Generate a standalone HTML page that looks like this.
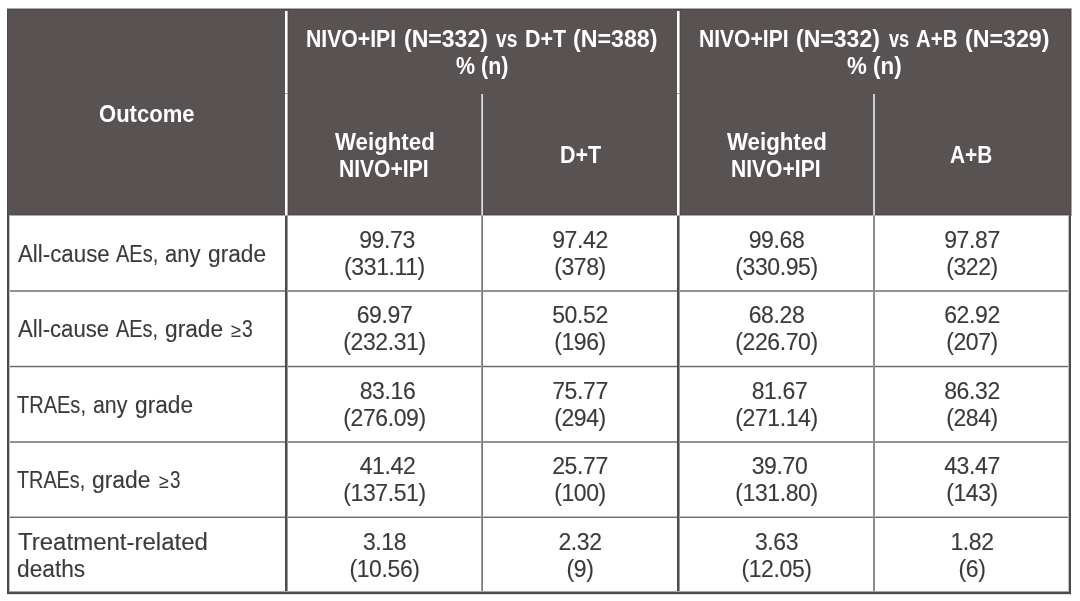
<!DOCTYPE html>
<html>
<head>
<meta charset="utf-8">
<style>
html,body{margin:0;padding:0;background:#fff;}
body{will-change:transform;width:1080px;height:601px;overflow:hidden;position:relative;font-family:"Liberation Sans",sans-serif;}
.a{position:absolute;}
.t{position:absolute;text-align:center;white-space:nowrap;line-height:27px;}
.h{color:#fff;font-weight:bold;font-size:23px;}
.c{color:#3d3937;font-size:23px;-webkit-text-stroke:0.12px #3d3937;}
.l{text-align:left;}
.w{transform-origin:0 0;text-align:left;}
.tx{position:absolute;left:0;top:0;width:1080px;height:601px;}
</style>
</head>
<body>
<div class="a" style="left:7px;top:8px;width:1065px;height:208px;background:#585352"></div>
<div class="a" style="left:7px;top:8px;width:1065px;height:1px;background:#aca9a8"></div>
<div class="a" style="left:7px;top:9px;width:1064px;height:1px;background:#4e4a48"></div>
<div class="a" style="left:7px;top:9px;width:1px;height:206px;background:#4e4a48"></div>
<div class="a" style="left:1070px;top:9px;width:1px;height:206px;background:#4e4a48"></div>
<div class="a" style="left:1071px;top:8px;width:1px;height:208px;background:#aca9a8"></div>
<div class="a" style="left:8px;top:214px;width:1062px;height:1px;background:#4e4a48"></div>
<div class="a" style="left:9px;top:215px;width:1060px;height:1px;background:#aca9a8"></div>
<div class="a" style="left:285px;top:11px;width:2px;height:204px;background:#ffffff"></div>
<div class="a" style="left:287px;top:11px;width:1px;height:204px;background:#b4b2b1"></div>
<div class="a" style="left:288px;top:11px;width:1px;height:204px;background:#4e4a48"></div>
<div class="a" style="left:677px;top:11px;width:2px;height:204px;background:#ffffff"></div>
<div class="a" style="left:679px;top:11px;width:1px;height:204px;background:#b4b2b1"></div>
<div class="a" style="left:680px;top:11px;width:1px;height:204px;background:#4e4a48"></div>
<div class="a" style="left:285px;top:93px;width:3px;height:1px;background:#9b9897"></div>
<div class="a" style="left:677px;top:93px;width:3px;height:1px;background:#9b9897"></div>
<div class="a" style="left:481px;top:94px;width:1px;height:121px;background:#b4b2b1"></div>
<div class="a" style="left:482px;top:94px;width:1px;height:121px;background:#e1e0e0"></div>
<div class="a" style="left:873px;top:94px;width:1px;height:121px;background:#cdcbcb"></div>
<div class="a" style="left:874px;top:94px;width:1px;height:121px;background:#cdcbcb"></div>
<div class="a" style="left:9px;top:290px;width:1060px;height:1px;background:#959291"></div>
<div class="a" style="left:9px;top:291px;width:1060px;height:1px;background:#959291"></div>
<div class="a" style="left:9px;top:365px;width:1060px;height:1px;background:#e4e4e4"></div>
<div class="a" style="left:9px;top:366px;width:1060px;height:1px;background:#696563"></div>
<div class="a" style="left:9px;top:367px;width:1060px;height:1px;background:#dcdbda"></div>
<div class="a" style="left:9px;top:441px;width:1060px;height:1px;background:#959291"></div>
<div class="a" style="left:9px;top:442px;width:1060px;height:1px;background:#959291"></div>
<div class="a" style="left:9px;top:516px;width:1060px;height:1px;background:#c1c0bf"></div>
<div class="a" style="left:9px;top:517px;width:1060px;height:1px;background:#716e6d"></div>
<div class="a" style="left:7px;top:216px;width:2px;height:378px;background:#4e4a48"></div>
<div class="a" style="left:9px;top:216px;width:1px;height:375px;background:#c1c0bf"></div>
<div class="a" style="left:1069px;top:216px;width:2px;height:378px;background:#4e4a48"></div>
<div class="a" style="left:1068px;top:216px;width:1px;height:375px;background:#c1c0bf"></div>
<div class="a" style="left:9px;top:591px;width:1060px;height:1px;background:#a6a4a4"></div>
<div class="a" style="left:7px;top:592px;width:1064px;height:2px;background:#4e4a48"></div>
<div class="a" style="left:7px;top:594px;width:1065px;height:1px;background:#e4e4e4"></div>
<div class="a" style="left:285px;top:216px;width:2px;height:375px;background:#4e4a48"></div>
<div class="a" style="left:287px;top:216px;width:1px;height:375px;background:#9e9b9a"></div>
<div class="a" style="left:677px;top:216px;width:2px;height:375px;background:#4e4a48"></div>
<div class="a" style="left:679px;top:216px;width:1px;height:375px;background:#9e9b9a"></div>
<div class="a" style="left:481px;top:216px;width:1px;height:375px;background:#9e9b9a"></div>
<div class="a" style="left:482px;top:216px;width:1px;height:375px;background:#7a7776"></div>
<div class="a" style="left:873px;top:216px;width:1px;height:375px;background:#8f8d8c"></div>
<div class="a" style="left:874px;top:216px;width:1px;height:375px;background:#8f8d8c"></div>
<div class="tx">
<div class="t h w" style="left:306.48px;top:26px;transform:scaleX(0.9219)">NIVO+IPI</div>
<div class="t h w" style="left:404.20px;top:26px;transform:scaleX(1.0024)">(N=332)</div>
<div class="t h w" style="left:496.40px;top:26px;transform:scaleX(0.8320)">vs</div>
<div class="t h w" style="left:524.57px;top:26px;transform:scaleX(0.9326)">D+T</div>
<div class="t h w" style="left:572.79px;top:26px;transform:scaleX(1.0085)">(N=388)</div>
<div class="t h w" style="left:698.78px;top:26px;transform:scaleX(0.9156)">NIVO+IPI</div>
<div class="t h w" style="left:796.30px;top:26px;transform:scaleX(1.0024)">(N=332)</div>
<div class="t h w" style="left:888.70px;top:26px;transform:scaleX(0.7880)">vs</div>
<div class="t h w" style="left:916.01px;top:26px;transform:scaleX(0.8867)">A+B</div>
<div class="t h w" style="left:964.59px;top:26px;transform:scaleX(1.0085)">(N=329)</div>
<div class="t h w" style="left:456.25px;top:53px;transform:scaleX(0.9318)">% (n)</div>
<div class="t h w" style="left:846.80px;top:53px;transform:scaleX(0.9709)">% (n)</div>
<div class="t h w" style="left:99.04px;top:101px;transform:scaleX(0.9582)">Outcome</div>
<div class="t h w" style="left:334.50px;top:129px;transform:scaleX(0.9676)">Weighted</div>
<div class="t h w" style="left:338.98px;top:156px;transform:scaleX(0.9156)">NIVO+IPI</div>
<div class="t h w" style="left:726.50px;top:129px;transform:scaleX(0.9676)">Weighted</div>
<div class="t h w" style="left:730.98px;top:156px;transform:scaleX(0.9156)">NIVO+IPI</div>
<div class="t h w" style="left:559.87px;top:142px;transform:scaleX(0.9349)">D+T</div>
<div class="t h w" style="left:950.09px;top:142px;transform:scaleX(0.9067)">A+B</div>
<div class="t c w" style="left:17.50px;top:241px;transform:scaleX(0.9691)">All-cause</div>
<div class="t c w" style="left:116.20px;top:241px;transform:scaleX(0.8702)">AEs,</div>
<div class="t c w" style="left:165.34px;top:241px;transform:scaleX(0.9556)">any</div>
<div class="t c w" style="left:207.51px;top:241px;transform:scaleX(0.9877)">grade</div>
<div class="t c w" style="left:17.50px;top:316px;transform:scaleX(0.9638)">All-cause</div>
<div class="t c w" style="left:116.30px;top:316px;transform:scaleX(0.8660)">AEs,</div>
<div class="t c w" style="left:164.91px;top:316px;transform:scaleX(0.9877)">grade</div>
<div class="t c w" style="left:231.00px;top:317px;font-size:19.5px;transform:scaleX(0.9250)">&ge;</div>
<div class="t c w" style="left:242.16px;top:316px;transform:scaleX(0.8409)">3</div>
<div class="t c w" style="left:17.00px;top:392px;transform:scaleX(0.8701)">TRAEs,</div>
<div class="t c w" style="left:92.67px;top:392px;transform:scaleX(0.9278)">any</div>
<div class="t c w" style="left:134.91px;top:392px;transform:scaleX(0.9877)">grade</div>
<div class="t c w" style="left:17.00px;top:467px;transform:scaleX(0.8610)">TRAEs,</div>
<div class="t c w" style="left:92.31px;top:467px;transform:scaleX(0.9947)">grade</div>
<div class="t c w" style="left:159.00px;top:468px;font-size:19.5px;transform:scaleX(0.9000)">&ge;</div>
<div class="t c w" style="left:170.18px;top:467px;transform:scaleX(0.8182)">3</div>
<div class="t c w" style="left:17.80px;top:529px;transform:scaleX(1.0436)">Treatment-related</div>
<div class="t c w" style="left:16.81px;top:556px;transform:scaleX(0.9881)">deaths</div>
<div class="t c" style="left:289.5px;width:195px;top:227px;letter-spacing:-0.4px">99.73</div>
<div class="t c" style="left:287px;width:195px;top:254px;letter-spacing:-0.4px">(331.11)</div>
<div class="t c" style="left:483px;width:194px;top:227px;letter-spacing:-0.4px">97.42</div>
<div class="t c" style="left:483px;width:194px;top:254px;letter-spacing:-0.4px">(378)</div>
<div class="t c" style="left:679px;width:195px;top:227px;letter-spacing:-0.4px">99.68</div>
<div class="t c" style="left:679px;width:195px;top:254px;letter-spacing:-0.4px">(330.95)</div>
<div class="t c" style="left:875px;width:194px;top:227px;letter-spacing:-0.4px">97.87</div>
<div class="t c" style="left:875px;width:194px;top:254px;letter-spacing:-0.4px">(322)</div>
<div class="t c" style="left:287px;width:195px;top:302px;letter-spacing:-0.4px">69.97</div>
<div class="t c" style="left:287px;width:195px;top:329px;letter-spacing:-0.4px">(232.31)</div>
<div class="t c" style="left:483px;width:194px;top:302px;letter-spacing:-0.4px">50.52</div>
<div class="t c" style="left:483px;width:194px;top:329px;letter-spacing:-0.4px">(196)</div>
<div class="t c" style="left:679px;width:195px;top:302px;letter-spacing:-0.4px">68.28</div>
<div class="t c" style="left:679px;width:195px;top:329px;letter-spacing:-0.4px">(226.70)</div>
<div class="t c" style="left:875px;width:194px;top:302px;letter-spacing:-0.4px">62.92</div>
<div class="t c" style="left:875px;width:194px;top:329px;letter-spacing:-0.4px">(207)</div>
<div class="t c" style="left:290px;width:195px;top:378px;letter-spacing:-0.4px">83.16</div>
<div class="t c" style="left:287px;width:195px;top:405px;letter-spacing:-0.4px">(276.09)</div>
<div class="t c" style="left:483px;width:194px;top:378px;letter-spacing:-0.4px">75.77</div>
<div class="t c" style="left:483px;width:194px;top:405px;letter-spacing:-0.4px">(294)</div>
<div class="t c" style="left:682px;width:195px;top:378px;letter-spacing:-0.4px">81.67</div>
<div class="t c" style="left:679px;width:195px;top:405px;letter-spacing:-0.4px">(271.14)</div>
<div class="t c" style="left:875px;width:194px;top:378px;letter-spacing:-0.4px">86.32</div>
<div class="t c" style="left:875px;width:194px;top:405px;letter-spacing:-0.4px">(284)</div>
<div class="t c" style="left:290px;width:195px;top:453px;letter-spacing:-0.4px">41.42</div>
<div class="t c" style="left:287px;width:195px;top:480px;letter-spacing:-0.4px">(137.51)</div>
<div class="t c" style="left:483px;width:194px;top:453px;letter-spacing:-0.4px">25.77</div>
<div class="t c" style="left:483px;width:194px;top:480px;letter-spacing:-0.4px">(100)</div>
<div class="t c" style="left:682px;width:195px;top:453px;letter-spacing:-0.4px">39.70</div>
<div class="t c" style="left:679px;width:195px;top:480px;letter-spacing:-0.4px">(131.80)</div>
<div class="t c" style="left:875px;width:194px;top:453px;letter-spacing:-0.4px">43.47</div>
<div class="t c" style="left:875px;width:194px;top:480px;letter-spacing:-0.4px">(143)</div>
<div class="t c" style="left:287px;width:195px;top:529px;letter-spacing:-0.4px">3.18</div>
<div class="t c" style="left:287px;width:195px;top:556px;letter-spacing:-0.4px">(10.56)</div>
<div class="t c" style="left:483px;width:194px;top:529px;letter-spacing:-0.4px">2.32</div>
<div class="t c" style="left:483px;width:194px;top:556px;letter-spacing:-0.4px">(9)</div>
<div class="t c" style="left:679px;width:195px;top:529px;letter-spacing:-0.4px">3.63</div>
<div class="t c" style="left:679px;width:195px;top:556px;letter-spacing:-0.4px">(12.05)</div>
<div class="t c" style="left:875px;width:194px;top:529px;letter-spacing:-0.4px">1.82</div>
<div class="t c" style="left:875px;width:194px;top:556px;letter-spacing:-0.4px">(6)</div>
</div>
</body>
</html>
